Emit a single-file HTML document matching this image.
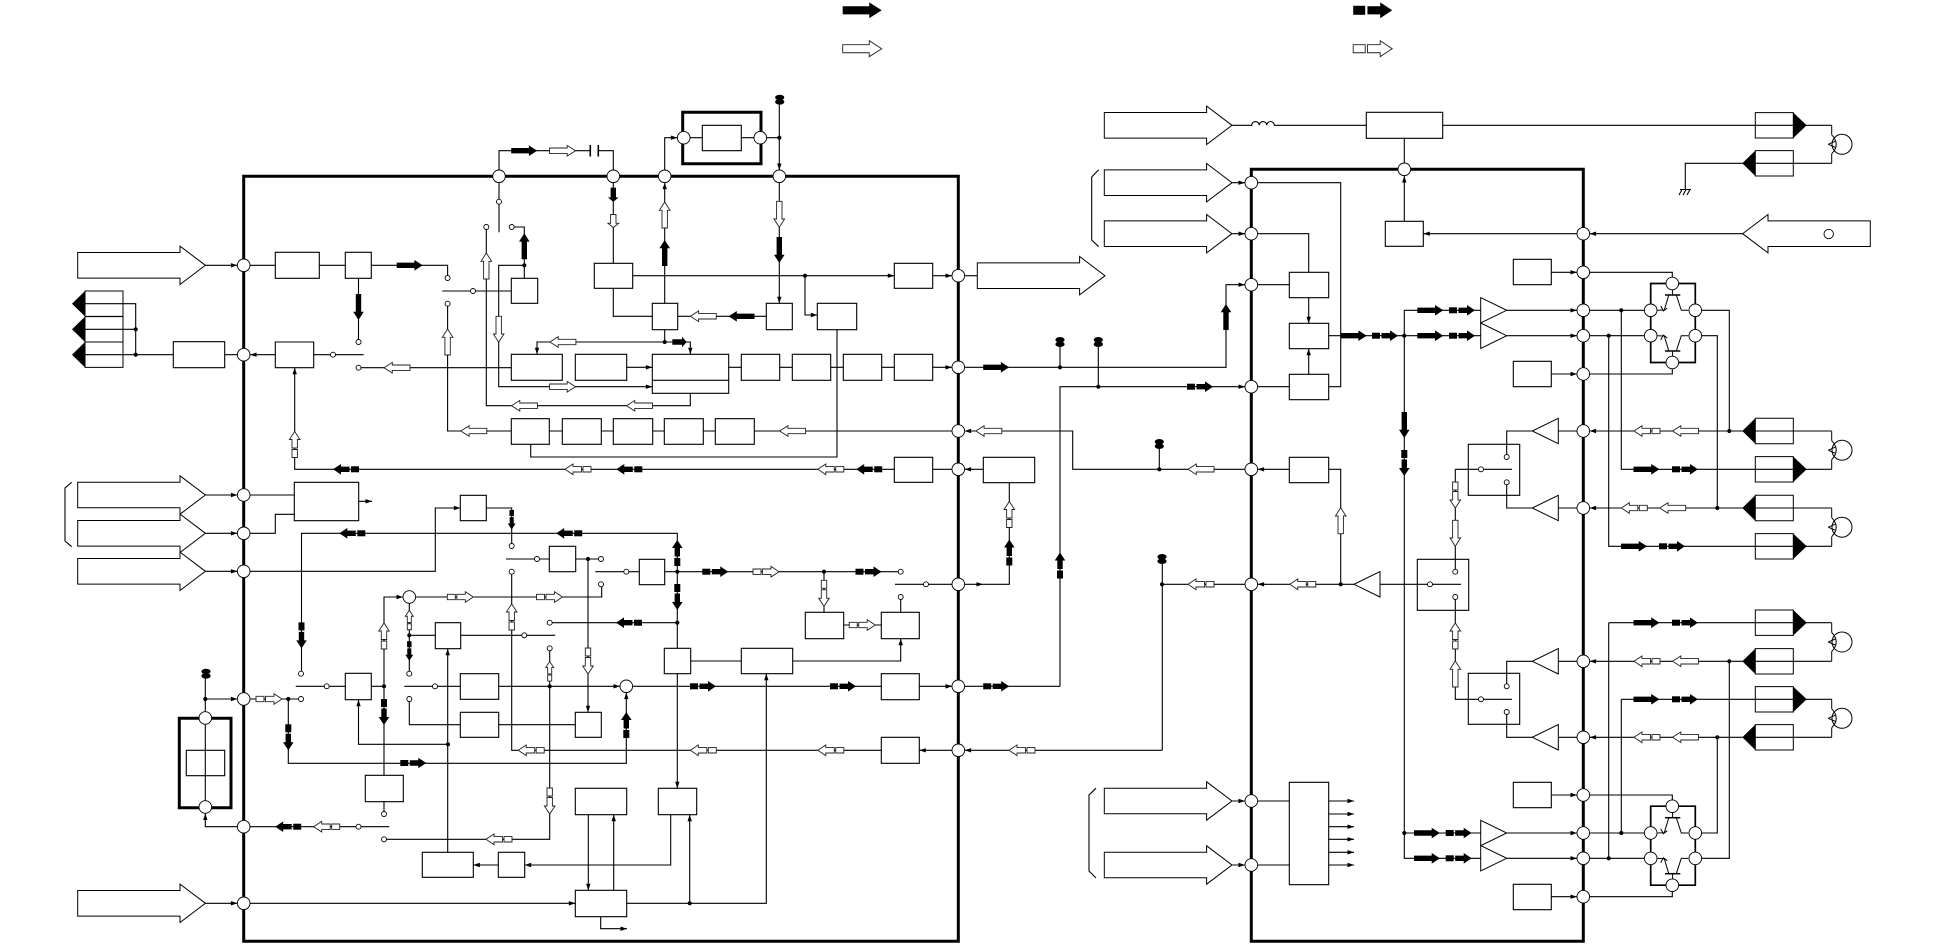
<!DOCTYPE html>
<html>
<head>
<meta charset="utf-8">
<style>
html,body{margin:0;padding:0;background:#fff;width:1934px;height:944px;overflow:hidden}
svg{display:block}
</style>
</head>
<body>
<svg xmlns="http://www.w3.org/2000/svg" width="1934" height="944" viewBox="0 0 1934 944">
<defs>
<path id="S" d="M-13-2.7H4.7V-5.3L13 0L4.7 5.3V2.7H-13Z" fill="#000"/>
<path id="H" d="M-13-2.7H4.7V-5.3L13 0L4.7 5.3V2.7H-13Z" fill="#fff" stroke="#222" stroke-width=".9" vector-effect="non-scaling-stroke"/>
<g id="D"><path d="M-13-3H-5V3H-13Z" fill="#000"/><path d="M-3.5-2.7H5V-5.3L13 0L5 5.3V2.7H-3.5Z" fill="#000"/></g>
<g id="O" fill="#fff" stroke="#222" stroke-width=".9"><path d="M-13-2.7H-5V2.7H-13Z" vector-effect="non-scaling-stroke"/><path d="M-3.5-2.7H5V-5.3L13 0L5 5.3V2.7H-3.5Z" vector-effect="non-scaling-stroke"/></g>
<path id="a" d="M0 0L-6.5-2.2V2.2Z" fill="#000"/>
<circle id="c" r="2.5" fill="#fff" stroke="#000" stroke-width=".9"/>
<circle id="p" r="6.3" fill="#fff" stroke="#000" stroke-width=".9"/>
<circle id="d" r="2.1" fill="#000"/>
<g id="b" fill="#000"><ellipse cy="-2.2" rx="4.6" ry="2.8"/><ellipse cy="2.2" rx="4.6" ry="2.8"/></g>
<path id="B" d="M0-12.8H102.3V-19.2L127.7 0L102.3 19.2V12.8H0Z" fill="#fff" stroke="#000" stroke-width="1"/>
<g id="R"><path d="M0-12.7H38V12.7H0Z" fill="#fff" stroke="#000" stroke-width="1"/><path d="M38-12.7L51.4 0L38 12.7Z" fill="#000"/></g>
<g id="L"><path d="M0-12.7H38V12.7H0Z" fill="#fff" stroke="#000" stroke-width="1"/><path d="M0-12.7L-13 0L0 12.7Z" fill="#000"/></g>
<path id="T" d="M0-12.7L26 0L0 12.7Z" fill="#fff" stroke="#000" stroke-width="1"/>
<g id="M" fill="none" stroke="#000" stroke-width="1"><path d="M0-19V-9.5M0 9.5V19"/><circle cx="10.3" r="10"/><path d="M0-9.5Q9 0 0 9.5"/><path d="M-3.5 0L3.5-3M-3.5 0L3.5 3"/></g>
<g id="X" fill="none" stroke="#000" stroke-width="1"><path d="M-7.3-28H8" stroke-width="1.5"/><path d="M.3-33V-28M-3.5-28L-8-13L-15-12.7M4-28L9-12.7H16"/><path d="M-11.5-17L-9-12L-5-15"/></g>
<g id="BR"><path d="M-21.6-39.5H23V39.5H-21.6Z" fill="none" stroke="#000" stroke-width="1.7"/><use href="#X"/><use href="#X" transform="scale(1,-1)"/><use href="#p" x="-21.6" y="-12.7"/><use href="#p" x="23" y="-12.7"/><use href="#p" x="-21.6" y="12.7"/><use href="#p" x="23" y="12.7"/><use href="#p" y="-39.5"/><use href="#p" y="39.5"/></g>
</defs>
<rect width="1934" height="944" fill="#fff"/>

<!-- thick outlines -->
<g fill="none" stroke="#000" stroke-width="3">
<path d="M243.7 176.3H958.3V941.3H243.7Z"/>
<path d="M1251.3 169.3H1583.3V941.3H1251.3Z"/>
<path d="M682.7 112.3H761V163.7H682.7Z"/>
<path d="M179.3 718.3H231V807.7H179.3Z"/>
</g>

<!-- boxes -->
<path fill="#fff" stroke="#000" stroke-width="1.1" d="
M275.3 252.3H319.3V278.3H275.3Z M345.3 252.3H371.3V278.3H345.3Z M173.3 341.7H224.7V367.7H173.3Z M275.3 342H313.7V367.7H275.3Z
M511.3 278.3H537.7V303.3H511.3Z M594.3 263.3H632.7V288.3H594.3Z M652.3 303.3H677.7V329.7H652.3Z M766.3 303.3H792.3V329.7H766.3Z M817.3 303.3H856.7V329.7H817.3Z M894.3 263.3H932.7V288.3H894.3Z
M702.3 125.3H741.3V150.7H702.3Z
M511.3 354.3H562.3V380.3H511.3Z M575.3 354.3H626.7V380.3H575.3Z M652.3 354.3H728.7V380.3H652.3Z M652.3 380.3H728.7V393.3H652.3Z M741.3 354.3H779.7V380.3H741.3Z M792.3 354.3H830.7V380.3H792.3Z M843.3 354.3H881.7V380.3H843.3Z M894.3 354.3H932.7V380.3H894.3Z
M511.3 418.7H549.3V444.3H511.3Z M562.3 418.7H601.3V444.3H562.3Z M613.3 418.7H652.7V444.3H613.3Z M664.3 418.7H703.3V444.3H664.3Z M715.3 418.7H754.3V444.3H715.3Z
M894.3 457.3H932.7V482.3H894.3Z M983.3 457.3H1034.7V482.7H983.3Z
M294.3 482.3H358.7V520.7H294.3Z M460.3 495.3H486.3V520.7H460.3Z M186.3 750.3H224.7V775.7H186.3Z
M345.3 673.3H371.3V699.7H345.3Z M365.3 775.3H403.3V801.7H365.3Z M435.3 622.7H460.7V648.7H435.3Z M460.3 673.7H498.7V699.3H460.3Z M460.3 712.3H498.7V737.3H460.3Z M422.3 852.3H473.3V877.3H422.3Z M498.3 852.3H524.7V877.3H498.3Z
M549.3 546.3H575.7V571.7H549.3Z M575.3 712.3H601.3V737.3H575.3Z M639.3 559.3H664.7V584.7H639.3Z M664.3 648.3H690.7V673.7H664.3Z M741.3 648.3H792.7V673.7H741.3Z M805.3 612.3H843.7V638.7H805.3Z M881.3 612.3H919.3V638.7H881.3Z M881.3 673.7H919.3V699.7H881.3Z M881.3 737.3H919.3V763.3H881.3Z
M575.3 788.3H626.7V814.7H575.3Z M658.3 788.3H696.7V814.7H658.3Z M575.3 890.3H626.7V916.7H575.3Z
M1366.3 112.3H1442.7V138.3H1366.3Z M1385.3 221.3H1423.3V246.3H1385.3Z M1289.3 272.3H1328.7V297.7H1289.3Z M1289.3 323.3H1328.7V348.7H1289.3Z M1289.3 374.3H1328.7V399.7H1289.3Z M1289.3 457.3H1328.7V482.7H1289.3Z M1289.3 782.3H1328.7V884.7H1289.3Z
M1513.3 259.3H1551.3V284.7H1513.3Z M1513.3 361.3H1551.3V386.7H1513.3Z M1513.3 782.3H1551.3V807.7H1513.3Z M1513.3 884.3H1551.3V909.7H1513.3Z
M1468.3 444.3H1519.7V495.3H1468.3Z M1417.3 559.3H1468.7V610.3H1417.3Z M1468.3 673.3H1519.7V724.3H1468.3Z
"/>

<!-- stacked connectors left -->
<use href="#L" transform="translate(85,303.7)"/>
<use href="#L" transform="translate(85,329.3)"/>
<use href="#L" transform="translate(85,354.7)"/>
<!-- right connectors -->
<use href="#R" transform="translate(1755.3,125.3)"/>
<use href="#L" transform="translate(1755.3,163.3)"/>
<use href="#L" transform="translate(1755.3,431)"/>
<use href="#R" transform="translate(1755.3,469.3)"/>
<use href="#L" transform="translate(1755.3,508)"/>
<use href="#R" transform="translate(1755.3,546.3)"/>
<use href="#R" transform="translate(1755.3,622.7)"/>
<use href="#L" transform="translate(1755.3,661.3)"/>
<use href="#R" transform="translate(1755.3,699.3)"/>
<use href="#L" transform="translate(1755.3,737.3)"/>

<!-- connector lines -->
<path fill="none" stroke="#000" stroke-width="1.1" d="
M205.3 265.3H275.3M319.3 265.3H345.3M371.3 265.3H447.6V278M358.5 278.3V342M442.3 291H511.3M447.6 303.7V431H511.3
M486.3 227V405.7H690.3V393.3
M85 303.7H135.7V354.7M85 329.3H135.7M85 354.7H173.3M224.7 354.7H275.3M313.7 354.7H363.7M358.5 367.7H511.3
M294.7 367.7V469.3H894.3M932.7 469.3H983.3
M499 176.3V232.3M499 176.3V150.7H590.3M598.3 150.7H613.3V263.3
M511.7 227H524.3V278.3M524.3 265.3H498.7V386.7H652.3
M664.7 303.3V137.7H683.7M779.3 99.7V303.3M683.7 137.7H702.3M741.3 137.7H779.3
M632.7 275.7H894.3M805 275.7V315H817.3M932.7 275.7H977.3
M613.3 288.3V316.3H652.3M677.7 316.3H766.3M664.7 329.7V342M537 354.3V342H690.3V354.3
M626.7 367.3H652.3M728.7 367.3H741.3M779.7 367.3H792.3M830.7 367.3H843.3M881.7 367.3H894.3M932.7 367.3H1226V284.7H1251.3
M549.3 431H562.3M601.3 431H613.3M652.7 431H664.3M703.3 431H715.3M754.3 431H1072.7V469.3H1289.3
M530.7 444.3V457H837V329.7
M1060 367.3V342M1098.3 386.7V342M1060 686.3V386.7H1251.3M919.3 686.3H1060
M1162.3 750.3V559M919.3 750.3H1162.3M1162 584.3H1251.3M1159.3 469.3V444
M1009.3 482.7V584.3H958.3
M205.3 495H294.3M205.3 533.3H275.3V514.3H294.3M205.3 571.3H435.3V508H460.3M358.7 501.3H372
M301.5 673.7V533.3H677.3V648.3M486.3 508H511.7V546
M205.3 673.7V807M205.3 813V826.7H389.3M205.3 699H301
M288.3 699V763.3H626.3V686.3
M295.7 686.3H345.3M371.3 686.3H384M404.3 686.3H460.3
M384 775.3V597H409.3M409.3 597H601.7V584.3M409.3 597V673.7M409.3 635.3H435.3M460.7 635.3H555.3
M358.5 699.7V744.3H447.7M447.7 648.7V852.3M384 801.7V814
M409.3 699V724.7H460.3M498.7 724.7H575.3M498.7 686.3H881.3
M549.7 648.3V839.3H384M549.7 622.7H677.3
M511.7 571.7V750.3H881.3
M506 559H549.3M575.7 559H601M588 559V712.3
M595.3 571.7H639.3M664.7 571.7H900.7M824 571.7V612.3M843.7 625H881.3M900.7 597V612.3M895 584.3H958.3
M690.7 661H741.3M792.7 661H900.7V638.7M677.3 673.7V788.3
M588.3 814.7V890.3M613.7 890.3V814.7M670.7 814.7V865H524.7M498.3 865H473.3
M689.7 903.3V814.7M626.7 903.3H766.3V673.7M205.3 903.3H575.3M600.7 916.7V928.7H627
M1232.3 125.3H1251.7a2.8 2.8 0 0 1 7.5 0a2.8 2.8 0 0 1 7.5 0a2.8 2.8 0 0 1 7.6 0H1366.3M1442.7 125.3H1793.3
M1404.3 138.3V221.3M1423.3 233.7H1742.7
M1232.3 182.7H1340.7V386.7H1328.7M1232.3 233.7H1308.7V272.3M1251.3 284.7H1289.3M1251.3 386.7H1289.3M1308.7 297.7V323.3M1308.7 374.3V348.7
M1328.7 335.7H1480.7M1404.3 335.7V310.3H1480.7M1404.3 335.7V858.3H1480.7M1404.3 833H1480.7
M1506.7 310.3H1650.7M1506.7 335.7H1650.7M1551.3 272.3H1672.3V283.3M1551.3 374H1672.3V362.3
M1621.3 310.3V469.3H1793.3M1608.7 335.7V546.3H1793.3
M1695.3 310.3H1729.3V431M1695.3 335.7H1717.3V508
M1532.3 431H1506.7V457M1532.3 508H1506.7V482.3M1557.3 431H1793.3M1557.3 508H1793.3
M1455.3 469.3V571.7M1455.3 469.3H1512M1455.3 597V699.3H1512
M1379 584.3H1461M1251.3 584.3H1354M1328.7 469.3H1340.7V584.3
M1532.3 661.3H1506.7V686.3M1532.3 737.3H1506.7V712M1557.3 661.3H1793.3M1557.3 737.3H1793.3
M1608.7 622.7V858.3M1608.7 622.7H1793.3M1621.3 699.3V833M1621.3 699.3H1793.3
M1729.3 661.3V858.3H1695.3M1717.3 737.3V833H1695.3
M1506.7 833H1650.7M1506.7 858.3H1650.7M1551.3 795H1672.3V806.3M1551.3 896.7H1672.3V885.7
M1232.3 801H1289.3M1232.3 865H1289.3
M1328.7 801H1354M1328.7 814H1354M1328.7 826.7H1354M1328.7 839.3H1354M1328.7 852.3H1354M1328.7 865H1354
M1793 125.3H1831.7M1793 163.3H1831.7M1793 431H1831.7M1793 469.3H1831.7M1793 508H1831.7M1793 546.3H1831.7M1793 622.7H1831.7M1793 661.3H1831.7M1793 699.3H1831.7M1793 737.3H1831.7
M1685.3 189V163.3H1793.3
M71.7 482.3L65 488V541L71.7 546.7
M1098.7 169.7L1091.7 177V240L1098.7 246.7
M1096 788.3L1089 795V871L1096 878
M1680 189.5H1691M1682 189.5L1679 195M1686 189.5L1683 195M1690 189.5L1687 195
"/>
<path fill="none" stroke="#000" stroke-width="1.6" d="M590.3 145V156.5M598.3 145V156.5"/>

<!-- big arrows -->
<use href="#B" x="77.7" y="265.3"/>
<use href="#B" x="77.7" y="495"/>
<use href="#B" x="77.7" y="533.3"/>
<use href="#B" x="77.7" y="571.3"/>
<use href="#B" x="77.7" y="903.3"/>
<use href="#B" x="977.3" y="275.7"/>
<use href="#B" x="1104.3" y="125.3"/>
<use href="#B" x="1104.3" y="182.7"/>
<use href="#B" x="1104.3" y="233.7"/>
<use href="#B" x="1104.3" y="801"/>
<use href="#B" x="1104.3" y="865"/>
<use href="#B" transform="translate(1870.3,233.7) rotate(180)"/>
<circle cx="1828.7" cy="234" r="4.7" fill="#fff" stroke="#000" stroke-width=".9"/>

<!-- triangles -->
<use href="#T" transform="translate(1480.7,310.3)"/>
<use href="#T" transform="translate(1480.7,335.7)"/>
<use href="#T" transform="translate(1480.7,833)"/>
<use href="#T" transform="translate(1480.7,858.3)"/>
<use href="#T" transform="translate(1558.3,431) rotate(180)"/>
<use href="#T" transform="translate(1558.3,508) rotate(180)"/>
<use href="#T" transform="translate(1558.3,661.3) rotate(180)"/>
<use href="#T" transform="translate(1558.3,737.3) rotate(180)"/>
<use href="#T" transform="translate(1380,584.3) rotate(180)"/>

<!-- motors -->
<use href="#M" transform="translate(1831.7,144.3)"/>
<use href="#M" transform="translate(1831.7,450.2)"/>
<use href="#M" transform="translate(1831.7,527.2)"/>
<use href="#M" transform="translate(1831.7,642)"/>
<use href="#M" transform="translate(1831.7,718.3)"/>

<!-- small arrowheads -->
<g>
<use href="#a" transform="translate(237.4,265.3)"/><use href="#a" transform="translate(237.4,495)"/><use href="#a" transform="translate(237.4,533.3)"/><use href="#a" transform="translate(237.4,571.3)"/><use href="#a" transform="translate(237.4,699)"/><use href="#a" transform="translate(237.4,903.3)"/>
<use href="#a" transform="translate(250,354.7) rotate(180)"/><use href="#a" transform="translate(294.7,367.7) rotate(-90)"/>
<use href="#a" transform="translate(664.7,182.6) rotate(-90)"/><use href="#a" transform="translate(677.4,137.7)"/><use href="#a" transform="translate(779.3,170) rotate(90)"/><use href="#a" transform="translate(779.3,303.3) rotate(90)"/>
<use href="#a" transform="translate(894.3,275.7)"/><use href="#a" transform="translate(952,275.7)"/><use href="#a" transform="translate(817.3,315)"/><use href="#a" transform="translate(652.3,367.3)"/><use href="#a" transform="translate(652.3,386.7)"/>
<use href="#a" transform="translate(537,354.3) rotate(90)"/><use href="#a" transform="translate(690.3,354.3) rotate(90)"/><use href="#a" transform="translate(952,367.3)"/>
<use href="#a" transform="translate(964.6,431) rotate(180)"/><use href="#a" transform="translate(964.6,469.3) rotate(180)"/><use href="#a" transform="translate(964.6,750.3) rotate(180)"/>
<use href="#a" transform="translate(983,584.3)"/><use href="#a" transform="translate(952,686.3)"/><use href="#a" transform="translate(1245,284.7)"/><use href="#a" transform="translate(1245,386.7)"/>
<use href="#a" transform="translate(1257.6,469.3) rotate(180)"/><use href="#a" transform="translate(1257.6,584.3) rotate(180)"/>
<use href="#a" transform="translate(1245,182.7)"/><use href="#a" transform="translate(1245,233.7)"/><use href="#a" transform="translate(1245,801)"/><use href="#a" transform="translate(1245,865)"/>
<use href="#a" transform="translate(1404.3,176) rotate(-90)"/><use href="#a" transform="translate(1423.3,233.7) rotate(180)"/><use href="#a" transform="translate(1589.6,233.7) rotate(180)"/>
<use href="#a" transform="translate(1308.7,323.3) rotate(90)"/><use href="#a" transform="translate(1308.7,348.7) rotate(-90)"/>
<use href="#a" transform="translate(1577,272.3)"/><use href="#a" transform="translate(1577,310.3)"/><use href="#a" transform="translate(1577,335.7)"/><use href="#a" transform="translate(1577,374)"/>
<use href="#a" transform="translate(1589.6,431) rotate(180)"/><use href="#a" transform="translate(1589.6,508) rotate(180)"/><use href="#a" transform="translate(1589.6,661.3) rotate(180)"/><use href="#a" transform="translate(1589.6,737.3) rotate(180)"/>
<use href="#a" transform="translate(1577,795)"/><use href="#a" transform="translate(1577,833)"/><use href="#a" transform="translate(1577,858.3)"/><use href="#a" transform="translate(1577,896.7)"/>
<use href="#a" transform="translate(1354,801)"/><use href="#a" transform="translate(1354,814)"/><use href="#a" transform="translate(1354,826.7)"/><use href="#a" transform="translate(1354,839.3)"/><use href="#a" transform="translate(1354,852.3)"/><use href="#a" transform="translate(1354,865)"/>
<use href="#a" transform="translate(372,501.3)"/><use href="#a" transform="translate(460.3,508)"/><use href="#a" transform="translate(403,597)"/><use href="#a" transform="translate(358.5,699.7) rotate(-90)"/><use href="#a" transform="translate(447.7,648.7) rotate(-90)"/><use href="#a" transform="translate(588,712.3) rotate(90)"/>
<use href="#a" transform="translate(620,686.3)"/><use href="#a" transform="translate(626.3,692.6) rotate(-90)"/><use href="#a" transform="translate(900.7,638.7) rotate(-90)"/><use href="#a" transform="translate(766.3,673.7) rotate(-90)"/><use href="#a" transform="translate(677.3,788.3) rotate(90)"/><use href="#a" transform="translate(689.7,814.7) rotate(-90)"/>
<use href="#a" transform="translate(588.3,890.3) rotate(90)"/><use href="#a" transform="translate(613.7,814.7) rotate(-90)"/><use href="#a" transform="translate(524.7,865) rotate(180)"/><use href="#a" transform="translate(473.3,865) rotate(180)"/><use href="#a" transform="translate(575.3,903.3)"/><use href="#a" transform="translate(627,928.7)"/>
<use href="#a" transform="translate(919.3,750.3) rotate(180)"/><use href="#a" transform="translate(952,686.3)"/><use href="#a" transform="translate(205.3,813.5) rotate(-90)"/>
</g>

<!-- legend -->
<use href="#S" transform="translate(862.2,10.3) scale(1.5)"/>
<use href="#H" transform="translate(862.2,48.7) scale(1.5)"/>
<use href="#D" transform="translate(1372.7,10.3) scale(1.5)"/>
<use href="#O" transform="translate(1372.7,48.7) scale(1.5)"/>

<!-- solid arrows -->
<use href="#S" transform="translate(409.7,265.3)"/><use href="#S" transform="translate(358.5,307) rotate(90)"/><use href="#S" transform="translate(524.3,246.3) rotate(-90)"/><use href="#S" transform="translate(524.2,150.7)"/><use href="#S" transform="translate(664.7,253) rotate(-90)"/><use href="#S" transform="translate(779.3,250) rotate(90)"/><use href="#S" transform="translate(741.5,316.3) rotate(180)"/><use href="#S" transform="translate(996.2,367.3)"/><use href="#S" transform="translate(1226,317) rotate(-90)"/><use href="#S" transform="translate(1353.7,335.7)"/><use href="#S" transform="translate(1404.3,425) rotate(90)"/><use href="#S" transform="translate(1430.3,310.3)"/><use href="#S" transform="translate(1430.3,335.7)"/><use href="#S" transform="translate(1427,833)"/><use href="#S" transform="translate(1427,858.3)"/><use href="#S" transform="translate(1646.5,469.3)"/><use href="#S" transform="translate(1634,546.3)"/><use href="#S" transform="translate(1646.5,622.7)"/><use href="#S" transform="translate(1646.5,699.3)"/>
<use href="#S" transform="translate(613.3,194.8) rotate(90) scale(.55,1)"/><use href="#S" transform="translate(679.5,342) scale(.55,1)"/>

<!-- hollow arrows -->
<use href="#H" transform="translate(562.5,150.7)"/><use href="#H" transform="translate(779.3,214.3) rotate(90)"/><use href="#H" transform="translate(664.7,215) rotate(-90)"/><use href="#H" transform="translate(486.3,266) rotate(-90)"/><use href="#H" transform="translate(447.6,342) rotate(-90)"/><use href="#H" transform="translate(397,367.7) rotate(180)"/><use href="#H" transform="translate(473.8,431) rotate(180)"/><use href="#H" transform="translate(498.7,329.3) rotate(90)"/><use href="#H" transform="translate(562.5,386.7)"/><use href="#H" transform="translate(524.5,405.7) rotate(180)"/><use href="#H" transform="translate(639.5,405.7) rotate(180)"/><use href="#H" transform="translate(703.3,316.3) rotate(180)"/><use href="#H" transform="translate(562.9,342) rotate(180)"/><use href="#H" transform="translate(792.6,431) rotate(180)"/><use href="#H" transform="translate(988.8,431) rotate(180)"/><use href="#H" transform="translate(1201,469.3) rotate(180)"/><use href="#H" transform="translate(1340.7,520.7) rotate(-90)"/><use href="#H" transform="translate(1455.3,533.3) rotate(90)"/><use href="#H" transform="translate(1455.3,674) rotate(-90)"/><use href="#H" transform="translate(1685.5,431) rotate(180)"/><use href="#H" transform="translate(1672.7,508) rotate(180)"/><use href="#H" transform="translate(1685.5,661.3) rotate(180)"/><use href="#H" transform="translate(1685.5,737.3) rotate(180)"/>
<use href="#H" transform="translate(613.3,221) rotate(90) scale(.5,1)"/>

<!-- double solid -->
<use href="#D" transform="translate(869.2,469.3) rotate(180)"/><use href="#D" transform="translate(629.3,469.3) rotate(180)"/><use href="#D" transform="translate(346,469.3) rotate(180)"/><use href="#D" transform="translate(1200,386.7)"/><use href="#D" transform="translate(1060,565.5) rotate(-90)"/><use href="#D" transform="translate(996.2,686.3)"/><use href="#D" transform="translate(352.3,533.3) rotate(180)"/><use href="#D" transform="translate(569.2,533.3) rotate(180)"/><use href="#D" transform="translate(677.3,553) rotate(-90)"/><use href="#D" transform="translate(677.3,597) rotate(90)"/><use href="#D" transform="translate(301.5,635.4) rotate(90)"/><use href="#D" transform="translate(288.3,737.3) rotate(90)"/><use href="#D" transform="translate(413.3,763)"/><use href="#D" transform="translate(384,712) rotate(90)"/><use href="#D" transform="translate(626.3,725) rotate(-90)"/><use href="#D" transform="translate(715.3,571.7)"/><use href="#D" transform="translate(868.5,571.7)"/><use href="#D" transform="translate(703,686.3)"/><use href="#D" transform="translate(843,686.3)"/><use href="#D" transform="translate(629,622.7) rotate(180)"/><use href="#D" transform="translate(288.2,826.7) rotate(180)"/><use href="#D" transform="translate(1385,335.7)"/><use href="#D" transform="translate(1404.3,463) rotate(90)"/><use href="#D" transform="translate(1462,310.3)"/><use href="#D" transform="translate(1462,335.7)"/><use href="#D" transform="translate(1458.7,833)"/><use href="#D" transform="translate(1458.7,858.3)"/><use href="#D" transform="translate(1685,469.3)"/><use href="#D" transform="translate(1672,546.3)"/><use href="#D" transform="translate(1685,622.7)"/><use href="#D" transform="translate(1685,699.3)"/><use href="#D" transform="translate(1009.3,552.5) rotate(-90)"/>
<use href="#D" transform="translate(511.7,519.7) rotate(90) scale(.75)"/><use href="#D" transform="translate(409.3,651) rotate(90) scale(.75)"/>

<!-- double hollow -->
<use href="#O" transform="translate(269,699)"/><use href="#O" transform="translate(326.7,826.7) rotate(180)"/><use href="#O" transform="translate(384,636) rotate(-90)"/><use href="#O" transform="translate(578,469.3) rotate(180)"/><use href="#O" transform="translate(830.8,469.3) rotate(180)"/><use href="#O" transform="translate(294.7,444.5) rotate(-90)"/><use href="#O" transform="translate(460.3,597)"/><use href="#O" transform="translate(549.5,597)"/><use href="#O" transform="translate(531.2,750.3) rotate(180)"/><use href="#O" transform="translate(703.3,750.3) rotate(180)"/><use href="#O" transform="translate(830.8,750.3) rotate(180)"/><use href="#O" transform="translate(499,839.3) rotate(180)"/><use href="#O" transform="translate(549.7,801) rotate(90)"/><use href="#O" transform="translate(588,661) rotate(90)"/><use href="#O" transform="translate(511.7,617) rotate(-90)"/><use href="#O" transform="translate(766,571.7)"/><use href="#O" transform="translate(824,593.3) rotate(90)"/><use href="#O" transform="translate(862.2,625)"/><use href="#O" transform="translate(1022,750.3) rotate(180)"/><use href="#O" transform="translate(1201,584.3) rotate(180)"/><use href="#O" transform="translate(1302.8,584.3) rotate(180)"/><use href="#O" transform="translate(1009.3,514.5) rotate(-90)"/><use href="#O" transform="translate(1455.3,495) rotate(90)"/><use href="#O" transform="translate(1455.3,636) rotate(-90)"/><use href="#O" transform="translate(1647,431) rotate(180)"/><use href="#O" transform="translate(1634.3,508) rotate(180)"/><use href="#O" transform="translate(1647,661.3) rotate(180)"/><use href="#O" transform="translate(1647,737.3) rotate(180)"/>
<use href="#O" transform="translate(409.3,620) rotate(-90) scale(.75)"/><use href="#O" transform="translate(549.7,671.3) rotate(-90) scale(.75)"/>

<!-- bridges -->
<use href="#BR" x="1672.3" y="323"/>
<use href="#BR" x="1672.3" y="845.7"/>

<!-- ports -->
<use href="#p" x="243.7" y="265.3"/><use href="#p" x="243.7" y="354.7"/><use href="#p" x="243.7" y="495"/><use href="#p" x="243.7" y="533.3"/><use href="#p" x="243.7" y="571.3"/><use href="#p" x="243.7" y="699"/><use href="#p" x="243.7" y="826.7"/><use href="#p" x="243.7" y="903.3"/>
<use href="#p" x="499" y="176.3"/><use href="#p" x="613.3" y="176.3"/><use href="#p" x="664.7" y="176.3"/><use href="#p" x="779.3" y="176.3"/>
<use href="#p" x="958.3" y="275.7"/><use href="#p" x="958.3" y="367.3"/><use href="#p" x="958.3" y="431"/><use href="#p" x="958.3" y="469.3"/><use href="#p" x="958.3" y="584.3"/><use href="#p" x="958.3" y="686.3"/><use href="#p" x="958.3" y="750.3"/>
<use href="#p" x="683.7" y="137.7"/><use href="#p" x="760.3" y="137.7"/><use href="#p" x="205.3" y="718"/><use href="#p" x="205.3" y="807"/><use href="#p" x="409.3" y="597"/><use href="#p" x="626.3" y="686.3"/>
<use href="#p" x="1404.3" y="169.3"/>
<use href="#p" x="1251.3" y="182.7"/><use href="#p" x="1251.3" y="233.7"/><use href="#p" x="1251.3" y="284.7"/><use href="#p" x="1251.3" y="386.7"/><use href="#p" x="1251.3" y="469.3"/><use href="#p" x="1251.3" y="584.3"/><use href="#p" x="1251.3" y="801"/><use href="#p" x="1251.3" y="865"/>
<use href="#p" x="1583.3" y="233.7"/><use href="#p" x="1583.3" y="272.3"/><use href="#p" x="1583.3" y="310.3"/><use href="#p" x="1583.3" y="335.7"/><use href="#p" x="1583.3" y="374"/><use href="#p" x="1583.3" y="431"/><use href="#p" x="1583.3" y="508"/><use href="#p" x="1583.3" y="661.3"/><use href="#p" x="1583.3" y="737.3"/><use href="#p" x="1583.3" y="795"/><use href="#p" x="1583.3" y="833"/><use href="#p" x="1583.3" y="858.3"/><use href="#p" x="1583.3" y="896.7"/>

<!-- small open circles -->
<use href="#c" x="447.6" y="278"/><use href="#c" x="447.6" y="303.7"/><use href="#c" x="473" y="291"/><use href="#c" x="358.5" y="342"/><use href="#c" x="333" y="354.7"/><use href="#c" x="358.5" y="367.7"/><use href="#c" x="499" y="201.7"/><use href="#c" x="486.3" y="227"/><use href="#c" x="511.7" y="227"/>
<use href="#c" x="301" y="673.7"/><use href="#c" x="301" y="699"/><use href="#c" x="326.7" y="686.3"/><use href="#c" x="409.3" y="673.7"/><use href="#c" x="409.3" y="699"/><use href="#c" x="435" y="686.3"/><use href="#c" x="384" y="814"/><use href="#c" x="358.5" y="826.7"/><use href="#c" x="384" y="839.3"/>
<use href="#c" x="511.7" y="546"/><use href="#c" x="511.7" y="571.7"/><use href="#c" x="537" y="559"/><use href="#c" x="601" y="559"/><use href="#c" x="601" y="584.3"/><use href="#c" x="549.7" y="622.7"/><use href="#c" x="524.3" y="635.3"/><use href="#c" x="549.7" y="648.3"/><use href="#c" x="626.3" y="571.7"/><use href="#c" x="900.7" y="571.7"/><use href="#c" x="900.7" y="597"/><use href="#c" x="926" y="584.3"/>
<use href="#c" x="1506.7" y="457"/><use href="#c" x="1506.7" y="482.3"/><use href="#c" x="1481" y="469.3"/><use href="#c" x="1430" y="584.3"/><use href="#c" x="1455.3" y="571.7"/><use href="#c" x="1455.3" y="597"/><use href="#c" x="1506.7" y="686.3"/><use href="#c" x="1506.7" y="712"/><use href="#c" x="1481" y="699.3"/>

<!-- junction dots -->
<use href="#d" x="135.7" y="329.3"/><use href="#d" x="135.7" y="354.7"/><use href="#d" x="524.3" y="265.3"/><use href="#d" x="779.3" y="137.7"/><use href="#d" x="805" y="275.7"/><use href="#d" x="664.7" y="342"/><use href="#d" x="1060" y="367.3"/><use href="#d" x="1098.3" y="386.7"/><use href="#d" x="1159.3" y="469.3"/><use href="#d" x="1162" y="584.3"/><use href="#d" x="288.3" y="699"/><use href="#d" x="205.3" y="699"/><use href="#d" x="384" y="686.3"/><use href="#d" x="409.3" y="635.3"/><use href="#d" x="448" y="744.3"/><use href="#d" x="588" y="559"/><use href="#d" x="677.3" y="571.7"/><use href="#d" x="677.3" y="622.7"/><use href="#d" x="824" y="571.7"/><use href="#d" x="549.7" y="686.3"/><use href="#d" x="689.7" y="903.3"/><use href="#d" x="1404.3" y="335.7"/><use href="#d" x="1404.3" y="833"/><use href="#d" x="1340.7" y="584.3"/><use href="#d" x="1621.3" y="310.3"/><use href="#d" x="1608.7" y="335.7"/><use href="#d" x="1729.3" y="431"/><use href="#d" x="1717.3" y="508"/><use href="#d" x="1729.3" y="661.3"/><use href="#d" x="1717.3" y="737.3"/><use href="#d" x="1621.3" y="833"/><use href="#d" x="1608.7" y="858.3"/>

<!-- supply blobs -->
<use href="#b" x="779.7" y="99.7"/><use href="#b" x="1060" y="342"/><use href="#b" x="1098.3" y="342"/><use href="#b" x="1159.3" y="444"/><use href="#b" x="1162" y="559"/><use href="#b" x="206" y="673.7"/>
</svg>
</body>
</html>
